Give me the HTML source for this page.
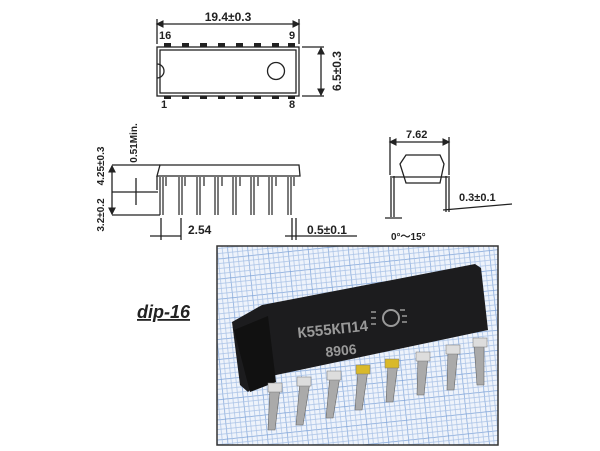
<!DOCTYPE html>
<html><head><meta charset="utf-8"><style>
html,body{margin:0;padding:0;background:#fff;width:600px;height:451px;overflow:hidden}
svg{display:block}
text{font-family:"Liberation Sans",sans-serif;font-weight:bold;fill:#222}
</style></head><body>
<svg width="600" height="451" viewBox="0 0 600 451" xmlns="http://www.w3.org/2000/svg">
<defs>
<pattern id="g" width="20" height="20" patternUnits="userSpaceOnUse" patternTransform="rotate(-6)">
<rect width="20" height="20" fill="#eef3fb"/>
<path d="M0 0H20M0 0V20" stroke="#7ea3d8" stroke-width="1.4"/>
<path d="M5 0V20M10 0V20M15 0V20M0 5H20M0 10H20M0 15H20" stroke="#a9c2e6" stroke-width="0.7"/>
</pattern>
<marker id="a" markerWidth="6" markerHeight="6" refX="5" refY="3" orient="auto-start-reverse"><path d="M0 0 L6 3 L0 6Z" fill="#222"/></marker>
</defs>
<g stroke="#222" fill="none" stroke-width="1.3">
<!-- top view -->
<line x1="157" y1="24" x2="299" y2="24" marker-start="url(#a)" marker-end="url(#a)"/><line x1="157" y1="19" x2="157" y2="44"/><line x1="299" y1="19" x2="299" y2="44"/>
<rect x="157" y="47" width="142" height="49"/><rect x="160" y="50" width="136" height="43"/>
<path d="M157 64 A7 7 0 0 1 157 78"/>
<circle cx="276" cy="71" r="8.5"/>
<line x1="302" y1="47" x2="324" y2="47"/><line x1="302" y1="96" x2="324" y2="96"/><line x1="321" y1="48" x2="321" y2="95" marker-start="url(#a)" marker-end="url(#a)"/>
<!-- side view -->
<path d="M160 165 H299 L300 176 H157 Z"/>
<line x1="157" y1="176" x2="157" y2="190"/>
<line x1="112" y1="165" x2="160" y2="165"/><line x1="112" y1="192" x2="158" y2="192"/><line x1="112" y1="215" x2="160" y2="215"/>
<line x1="112" y1="166" x2="112" y2="214" marker-start="url(#a)" marker-end="url(#a)"/><line x1="136" y1="178" x2="136" y2="205"/>
<line x1="161" y1="218" x2="161" y2="240"/><line x1="181" y1="218" x2="181" y2="240"/>
<line x1="150" y1="236" x2="181" y2="236"/>
<line x1="292" y1="218" x2="292" y2="240"/><line x1="296" y1="218" x2="296" y2="240"/><line x1="285" y1="236" x2="357" y2="236"/>
<!-- end view -->
<line x1="390" y1="142" x2="449" y2="142" marker-start="url(#a)" marker-end="url(#a)"/><line x1="390" y1="137" x2="390" y2="175"/><line x1="449" y1="137" x2="449" y2="175"/>
<path d="M400 164 L406 155 H440 L444 164 L440 183 H406 Z"/><line x1="392" y1="177" x2="448" y2="177"/>
<path d="M391 176 V217 M394 176 V217 M446 176 V212 M449 176 V212"/>
<line x1="385" y1="218" x2="402" y2="218"/><line x1="443" y1="210" x2="512" y2="204"/>
</g>
<g fill="#222">
<rect x="164" y="43" width="7" height="4"/><rect x="182" y="43" width="7" height="4"/><rect x="200" y="43" width="7" height="4"/><rect x="218" y="43" width="7" height="4"/><rect x="236" y="43" width="7" height="4"/><rect x="254" y="43" width="7" height="4"/><rect x="272" y="43" width="7" height="4"/><rect x="288" y="43" width="7" height="4"/>
<rect x="164" y="96" width="7" height="3"/><rect x="182" y="96" width="7" height="3"/><rect x="200" y="96" width="7" height="3"/><rect x="218" y="96" width="7" height="3"/><rect x="236" y="96" width="7" height="3"/><rect x="254" y="96" width="7" height="3"/><rect x="272" y="96" width="7" height="3"/><rect x="288" y="96" width="7" height="3"/>
</g>
<g stroke="#222" stroke-width="1.2" fill="none">
<path d="M160 177 V215 M163 177 V215 M179 177 V215 M182 177 V215 M197 177 V215 M200 177 V215 M215 177 V215 M218 177 V215 M233 177 V215 M236 177 V215 M251 177 V215 M254 177 V215 M269 177 V215 M272 177 V215 M288 177 V215 M291 177 V215"/>
<path d="M166 177 V186 M185 177 V186 M204 177 V186 M222 177 V186 M240 177 V186 M258 177 V186 M276 177 V186 M294 177 V186"/>
</g>
<text x="228" y="21" font-size="12" text-anchor="middle">19.4±0.3</text>
<text x="159" y="39" font-size="11">16</text>
<text x="289" y="39" font-size="11">9</text>
<text x="161" y="108" font-size="11">1</text>
<text x="289" y="108" font-size="11">8</text>
<text transform="translate(341,71) rotate(-90)" font-size="12" text-anchor="middle">6.5±0.3</text>
<text transform="translate(137,143) rotate(-90)" font-size="10" text-anchor="middle">0.51Min.</text>
<text transform="translate(104,166) rotate(-90)" font-size="10" text-anchor="middle">4.25±0.3</text>
<text transform="translate(104,215) rotate(-90)" font-size="10" text-anchor="middle">3.2±0.2</text>
<text x="188" y="234" font-size="12">2.54</text>
<text x="307" y="234" font-size="12">0.5±0.1</text>
<text x="406" y="138" font-size="11">7.62</text>
<text x="459" y="201" font-size="11">0.3±0.1</text>
<text x="391" y="240" font-size="10">0°～15°</text>
<text x="137" y="318" font-size="18" font-style="italic" text-decoration="underline">dip-16</text>
<!-- photo -->
<rect x="217" y="246" width="281" height="199" fill="url(#g)" stroke="#333" stroke-width="1.5"/>
<g fill="#aaa" stroke="#666" stroke-width="0.6">
<path d="M270 388 L280 388 L275 430 L268 430Z"/><path d="M300 382 L310 382 L303 425 L296 425Z"/>
<path d="M330 376 L340 376 L333 418 L326 418Z"/><path d="M358 370 L368 370 L362 410 L355 410Z"/>
<path d="M388 363 L398 363 L393 402 L386 402Z"/><path d="M418 357 L428 357 L424 395 L417 395Z"/>
<path d="M448 350 L458 350 L454 390 L447 390Z"/><path d="M474 343 L484 343 L484 385 L477 385Z"/>
</g>
<path d="M232 322 L262 305 L475 264 L481 268 L488 330 L262 378 L248 392 L240 385 Z" fill="#1c1c1e"/>
<path d="M234 330 L268 316 L276 382 L250 392Z" fill="#111"/>
<g stroke="#777" stroke-width="0.5">
<rect x="268" y="383" width="14" height="9" fill="#ddd"/><rect x="297" y="377" width="14" height="9" fill="#ddd"/>
<rect x="327" y="371" width="14" height="9" fill="#ddd"/><rect x="356" y="365" width="14" height="9" fill="#d9b92a"/>
<rect x="385" y="359" width="14" height="9" fill="#d9b92a"/><rect x="416" y="352" width="14" height="9" fill="#ddd"/>
<rect x="446" y="345" width="14" height="9" fill="#ddd"/><rect x="473" y="338" width="14" height="9" fill="#ddd"/>
</g>
<text x="298" y="338" font-size="15" font-weight="normal" style="fill:#999" transform="rotate(-6 298 338)">К555КП14</text>
<text x="326" y="357" font-size="14" font-weight="normal" style="fill:#999" transform="rotate(-6 326 357)">8906</text>
<circle cx="391" cy="318" r="8" fill="none" stroke="#999" stroke-width="2"/>
<path d="M376 312 h-5 M376 318 h-5 M376 324 h-5 M400 310 h5 M402 316 h5 M402 322 h5" stroke="#999" stroke-width="1.5"/>
</svg>
</body></html>
